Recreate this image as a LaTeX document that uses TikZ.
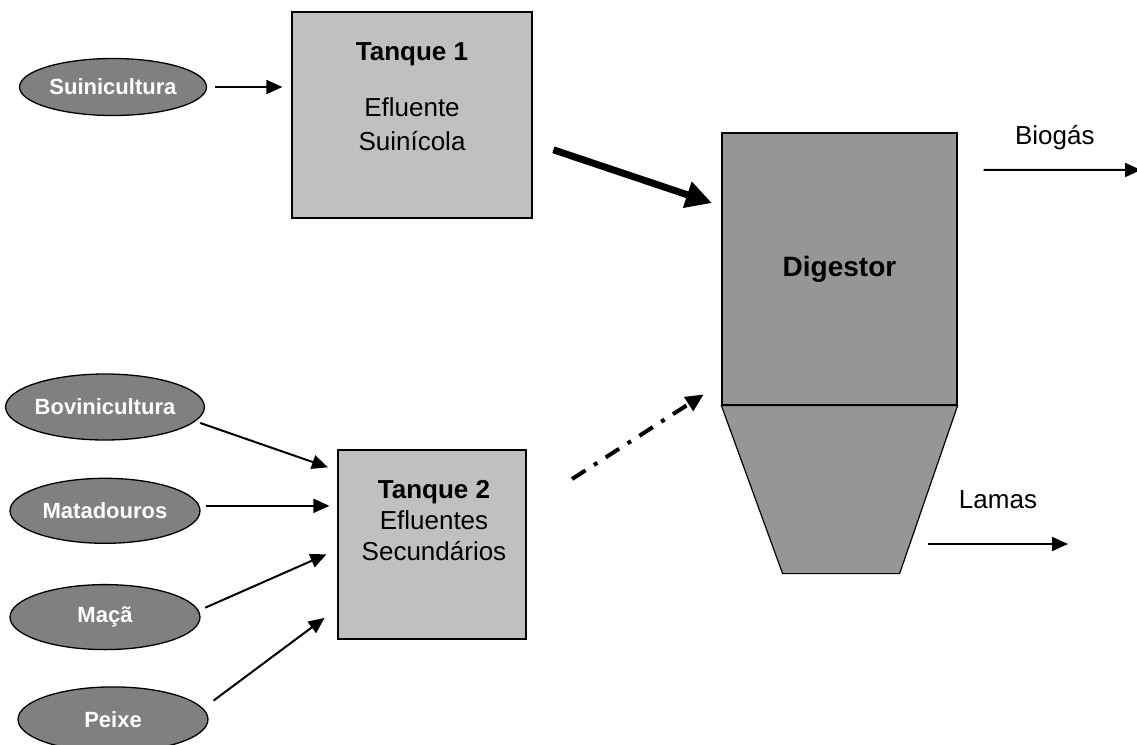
\documentclass[tikz,border=0pt]{standalone}
\usepackage{fontspec}
\setmainfont{Liberation Sans}
\usetikzlibrary{positioning,arrows.meta,shapes.geometric}

\definecolor{srcgray}{HTML}{808080}
\definecolor{tankgray}{HTML}{C0C0C0}
\definecolor{diggray}{HTML}{969696}

\tikzset{
  source/.style={ellipse, draw, line width=1.3pt, fill=srcgray, text=white,
    font=\fontsize{22}{26}\selectfont\bfseries, inner sep=0pt,
    minimum width=190pt, minimum height=65pt},
  tank/.style={rectangle, draw, line width=1.2pt, fill=tankgray},
  tanktext/.style={align=center, inner sep=0pt, font=\fontsize{26}{31}\selectfont},
  flow/.style={line width=2pt, -{Triangle[length=16pt,width=14pt]}},
  outlbl/.style={inner sep=0pt, anchor=base, font=\fontsize{26}{31}\selectfont},
}

\begin{document}
\begin{tikzpicture}[x=1pt, y=-1pt]
 \useasboundingbox (0,0) rectangle (1137,744);
 % sources
 \node[source, minimum width=187pt, minimum height=57pt] (sui) at (113,87) {Suinicultura};
 \node[source, minimum height=66pt] (bov) at (105,407) {Bovinicultura};
 \node[source, below=37pt of bov] (mat) {Matadouros};
 \node[source, below=40pt of mat] (maca) {Maçã};
 \node[source, below=36pt of maca, xshift=8pt] (peixe) {Peixe};
 % tanks
 \node[tank, minimum width=240pt, minimum height=206pt] (t1) at (412,115) {};
 \node[tanktext, below=31pt of t1.north, font=\fontsize{26}{34}\selectfont] (t1txt)
  {\textbf{Tanque 1}\\[22pt]Efluente\\Suinícola};
 \node[tank, minimum width=188pt, minimum height=189pt] (t2) at (432,544.5) {};
 \node[tanktext, below=31pt of t2.north, xshift=2pt] (t2txt)
  {\textbf{Tanque 2}\\Efluentes\\Secundários};
 % digestor
 \node[tank, fill=diggray, minimum width=235pt, minimum height=272pt,
  font=\fontsize{28}{32}\selectfont\bfseries] (dig) at (839.5,269) {Digestor};
 \draw[line width=1.2pt, fill=diggray] (dig.south west) -- (dig.south east)
  -- ++(-58,168) -- ++(-117,0) -- cycle;
 % feeds
 \draw[flow, shorten <=8pt, shorten >=9pt] (sui.east) -- (sui.east -| t1.west);
 \draw[flow, line width=7pt, -{Triangle[length=26pt,width=26pt]},
  shorten <=22pt, shorten >=10pt] (t1.-13) -- (dig.152);
 \draw[flow, shorten <=5pt, shorten >=10pt] (bov.-9) -- (t2.142);
 \draw[flow, shorten <=6pt, shorten >=8pt] (mat.3) -- (mat.3 -| t2.west);
 \draw[flow, shorten <=7pt, shorten >=12pt] (maca.4) -- (t2.183);
 \draw[flow, shorten <=13pt, shorten >=16pt] (peixe.7) -- (t2.214);
 \draw[flow, line width=4pt, dash pattern=on 16pt off 10pt on 4pt off 10pt,
  -{Triangle[length=18pt,width=16pt]}, shorten <=54pt, shorten >=21pt] (t2.21) -- (dig.224);
 % outputs
 \coordinate (gasout) at (1141,170);
 \draw[flow, shorten <=26pt] (dig.40) -- node[outlbl, pos=0.53, yshift=25pt] (biolbl) {Biogás} (gasout);
 \coordinate (sludge) at (928,544);
 \coordinate (sludgeout) at (1068,544);
 \draw[flow] (sludge) -- node[outlbl, yshift=36pt] (lamlbl) {Lamas} (sludgeout);
\end{tikzpicture}
\end{document}
